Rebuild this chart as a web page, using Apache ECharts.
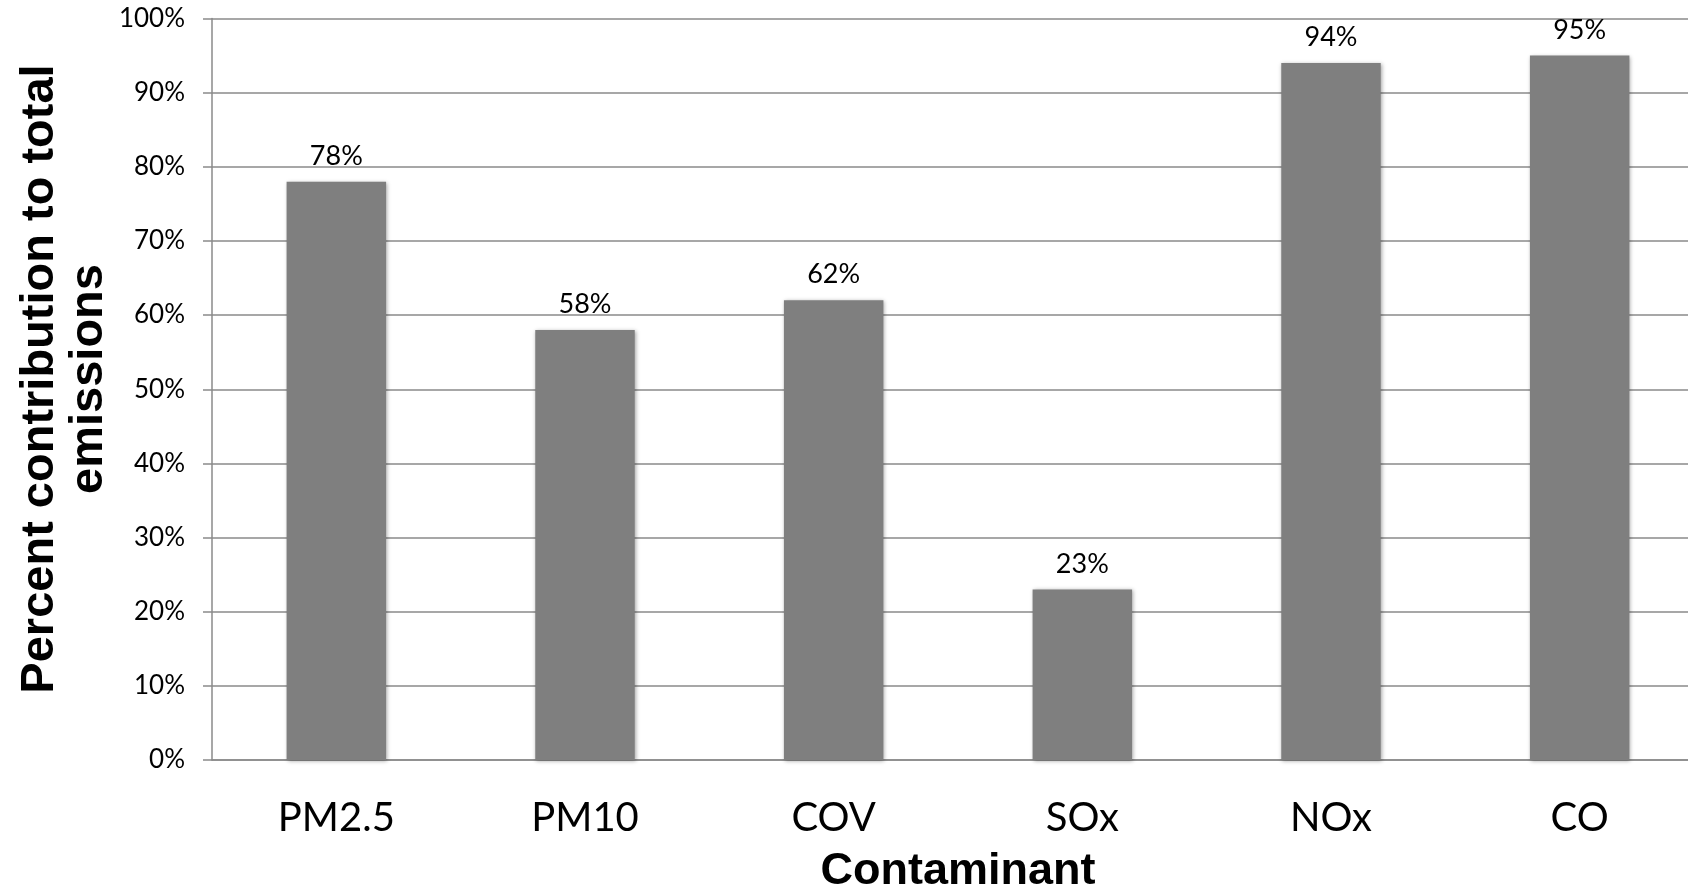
<!DOCTYPE html>
<html>
<head>
<meta charset="utf-8">
<script src="https://cdn.jsdelivr.net/npm/echarts@6/dist/echarts.min.js"></script>
<style>
html,body{margin:0;padding:0;background:#fff;}
#c{width:1688px;height:896px;}
</style>
</head>
<body>
<div id="c"></div>
<script>
var categories = ['PM2.5', 'PM10', 'COV', 'SOx', 'NOx', 'CO'];
var values = [78, 58, 62, 23, 94, 95];
var yTicks = {min: 0, max: 100, interval: 10};
var xTitle = 'Contaminant';
var yTitleLines = ['Percent contribution to total', 'emissions'];

var chart = echarts.init(document.getElementById('c'), null, {renderer: 'canvas'});
var gridColor = '#8a8a8a';
chart.setOption({
  animation: false,
  backgroundColor: '#ffffff',
  grid: {left: 212, top: 18.5, height: 741.5, width: 1492, containLabel: false, outerBoundsMode: 'none'},
  xAxis: {
    type: 'category',
    data: categories,
    axisLine: {show: true, lineStyle: {color: gridColor, width: 1.5}},
    axisTick: {show: false},
    axisLabel: {margin: 38, fontSize: 40, color: '#000', fontFamily: 'Lato'}
  },
  yAxis: {
    type: 'value',
    min: yTicks.min, max: yTicks.max, interval: yTicks.interval,
    axisLine: {show: true, lineStyle: {color: gridColor, width: 1.5}},
    axisTick: {show: true, inside: false, length: 9, lineStyle: {color: gridColor, width: 1.5}},
    splitLine: {show: true, lineStyle: {color: gridColor, width: 1.5}},
    axisLabel: {margin: 27, fontSize: 26, color: '#000', fontFamily: 'Lato', formatter: '{value}%'}
  },
  series: [{
    type: 'bar',
    data: values,
    barCategoryGap: '60%',
    itemStyle: {color: '#7f7f7f', shadowBlur: 4, shadowColor: 'rgba(0,0,0,0.35)', shadowOffsetX: 1, shadowOffsetY: 1},
    label: {show: true, position: 'top', distance: 12, fontSize: 27, color: '#000', fontFamily: 'Lato', formatter: '{c}%'}
  }],
  graphic: [
    {type: 'text', x: 958, y: 872, style: {text: xTitle, font: 'bold 45px "Liberation Sans"', fill: '#000', align: 'center', verticalAlign: 'middle'}},
    {type: 'text', x: 40, y: 379, rotation: Math.PI / 2, style: {text: yTitleLines[0], font: 'bold 47px "Liberation Sans"', fill: '#000', align: 'center', verticalAlign: 'middle'}},
    {type: 'text', x: 89, y: 379, rotation: Math.PI / 2, style: {text: yTitleLines[1], font: 'bold 47px "Liberation Sans"', fill: '#000', align: 'center', verticalAlign: 'middle'}}
  ]
});
</script>
</body>
</html>
